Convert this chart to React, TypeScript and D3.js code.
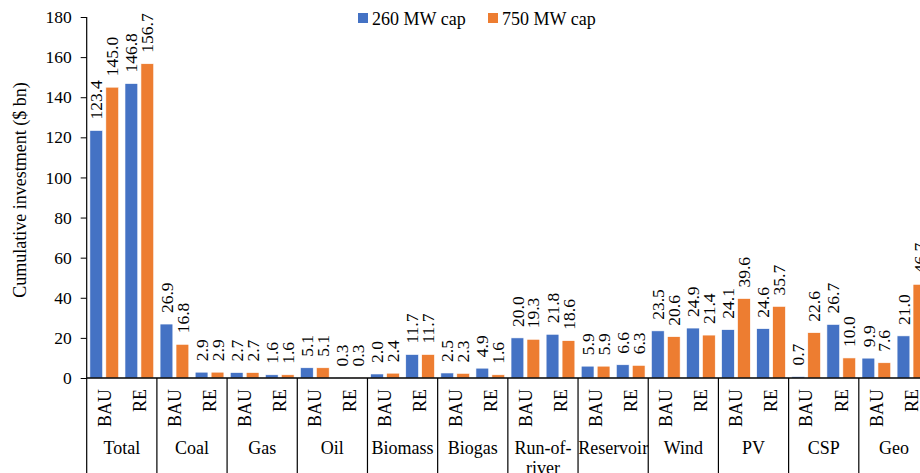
import React, { useEffect, useRef } from 'react';
import * as d3 from 'd3';

const categories = ['Total', 'Coal', 'Gas', 'Oil', 'Biomass', 'Biogas', 'Run-of-river', 'Reservoir', 'Wind', 'PV', 'CSP', 'Geo'];
const scenarios = ['BAU', 'RE'];
const seriesNames = ['260 MW cap', '750 MW cap'];
const seriesColors = ['#4472C4', '#ED7D31'];

// values in order: category, then BAU / RE
const cap260 = [123.4, 146.8, 26.9, 2.9, 2.7, 1.6, 5.1, 0.3, 2.0, 11.7, 2.5, 4.9, 20.0, 21.8, 5.9, 6.6, 23.5, 24.9, 24.1, 24.6, 0.7, 26.7, 9.9, 21.0];
const cap750 = [145.0, 156.7, 16.8, 2.9, 2.7, 1.6, 5.1, 0.3, 2.4, 11.7, 2.3, 1.6, 19.3, 18.6, 5.9, 6.3, 20.6, 21.4, 39.6, 35.7, 22.6, 10.0, 7.6, 46.7];
const yTicks = [0, 20, 40, 60, 80, 100, 120, 140, 160, 180];

const W = 920;
const H = 473;
const FONT = 'Liberation Serif';

const App: React.FC = () => {
  const svgRef = useRef<SVGSVGElement>(null);

  useEffect(() => {
    if (!svgRef.current) return;
    const svg = d3.select(svgRef.current);
    svg.selectAll('*').remove();

    const left = 86.7;
    const right = 929;
    const top = 17;
    const bottom = 378;

    const x0 = d3.scaleBand<string>().domain(categories).range([left, right]).padding(0);
    const x1 = d3.scaleBand<string>().domain(scenarios).range([0, x0.bandwidth()]).padding(0);
    const x2 = d3.scaleBand<string>().domain(seriesNames).range([0, x1.bandwidth()])
      .paddingInner(0.2).paddingOuter(0.2);
    const y = d3.scaleLinear().domain([0, 180]).range([bottom, top]);

    const rows: { cat: string; sc: string; s: number; v: number }[] = [];
    categories.forEach((cat, ci) => {
      scenarios.forEach((sc, si) => {
        const idx = ci * 2 + si;
        rows.push({ cat, sc, s: 0, v: cap260[idx] });
        rows.push({ cat, sc, s: 1, v: cap750[idx] });
      });
    });

    const g = svg.append('g');

    // bars
    g.selectAll('rect.bar')
      .data(rows)
      .enter().append('rect')
      .attr('class', 'bar')
      .attr('x', d => x0(d.cat)! + x1(d.sc)! + x2(seriesNames[d.s])!)
      .attr('width', x2.bandwidth())
      .attr('y', d => y(d.v))
      .attr('height', d => bottom - y(d.v))
      .attr('fill', d => seriesColors[d.s])
      .attr('stroke', '#fff')
      .attr('stroke-width', 0.6);

    // data labels
    g.selectAll('text.lbl')
      .data(rows)
      .enter().append('text')
      .attr('class', 'lbl')
      .attr('transform', d => {
        const cx = x0(d.cat)! + x1(d.sc)! + x2(seriesNames[d.s])! + x2.bandwidth() / 2;
        return `translate(${cx},${y(d.v) - 11}) rotate(-90)`;
      })
      .attr('dy', '0.35em')
      .attr('text-anchor', 'start')
      .attr('font-size', 17.5)
      .attr('fill', '#000')
      .text(d => d.v.toFixed(1));

    // y axis
    const yAxis = g.append('g')
      .attr('transform', `translate(${left},0)`)
      .call(d3.axisLeft(y).tickValues(yTicks).tickSize(6).tickPadding(9).tickSizeOuter(0));
    yAxis.select('.domain').remove();
    yAxis.attr('font-family', FONT).attr('font-size', 17.5);
    yAxis.selectAll('text').attr('fill', '#000');
    yAxis.selectAll('line').attr('stroke', '#000');

    g.append('line')
      .attr('x1', left).attr('x2', left)
      .attr('y1', top).attr('y2', H)
      .attr('stroke', '#000').attr('stroke-width', 1.2);

    // x axis line
    g.append('line')
      .attr('x1', left).attr('x2', W)
      .attr('y1', bottom).attr('y2', bottom)
      .attr('stroke', '#000').attr('stroke-width', 1.6);

    // group separators
    g.selectAll('line.sep')
      .data(categories.slice(1))
      .enter().append('line')
      .attr('class', 'sep')
      .attr('x1', d => x0(d)!).attr('x2', d => x0(d)!)
      .attr('y1', bottom).attr('y2', H)
      .attr('stroke', '#000').attr('stroke-width', 1.2);

    // scenario labels
    const subs = categories.flatMap(cat => scenarios.map(sc => ({ cat, sc })));
    g.selectAll('text.sub')
      .data(subs)
      .enter().append('text')
      .attr('class', 'sub')
      .attr('transform', d => `translate(${x0(d.cat)! + x1(d.sc)! + x1.bandwidth() / 2},${389}) rotate(-90)`)
      .attr('dy', '0.35em')
      .attr('text-anchor', 'end')
      .attr('font-size', 18)
      .attr('fill', '#000')
      .text(d => d.sc);

    // category labels
    const catLabels = g.selectAll('text.cat')
      .data(categories)
      .enter().append('text')
      .attr('class', 'cat')
      .attr('x', d => x0(d)! + x0.bandwidth() / 2)
      .attr('y', 454)
      .attr('text-anchor', 'middle')
      .attr('font-size', 18)
      .attr('fill', '#000');
    catLabels.each(function (d) {
      const t = d3.select(this);
      const parts = d === 'Run-of-river' ? ['Run-of-', 'river'] : [d];
      parts.forEach((p, i) => {
        t.append('tspan')
          .attr('x', x0(d)! + x0.bandwidth() / 2)
          .attr('dy', i === 0 ? 0 : 20)
          .text(p);
      });
    });

    // y axis title
    g.append('text')
      .attr('transform', `translate(20,${190}) rotate(-90)`)
      .attr('dy', '0.35em')
      .attr('text-anchor', 'middle')
      .attr('font-size', 18)
      .attr('fill', '#000')
      .text('Cumulative investment ($ bn)');

    // legend
    const legendX = [358, 488];
    seriesNames.forEach((name, i) => {
      g.append('rect')
        .attr('x', legendX[i]).attr('y', 13)
        .attr('width', 10).attr('height', 10)
        .attr('fill', seriesColors[i]);
      g.append('text')
        .attr('x', legendX[i] + 14).attr('y', 25)
        .attr('font-size', 18)
        .attr('fill', '#000')
        .text(name);
    });

    svg.selectAll('text').style('font-family', FONT);
  }, []);

  return (
    <svg
      ref={svgRef}
      width={W}
      height={H}
      style={{ position: 'absolute', left: 0, top: 0, background: '#fff', fontFamily: FONT }}
    />
  );
};

export default App;
